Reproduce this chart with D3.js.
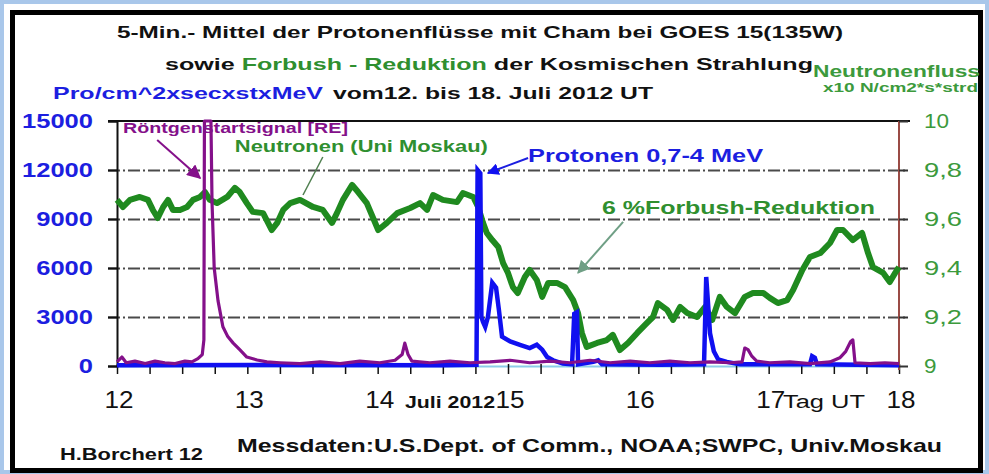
<!DOCTYPE html>
<html>
<head>
<meta charset="utf-8">
<script src="https://cdn.jsdelivr.net/npm/d3@7"></script>
<style>
body { margin: 0; background: #fff; }
svg { display: block; font-family: "Liberation Sans", Arial, sans-serif; }
</style>
</head>
<body>
<div id="chart"></div>
<script>
// time = hours since 12. Juli 2012 00:00 UT
const neutronHours = [0,1.1,2.4,4.2,5.7,6.6,7.5,8.5,9.4,10.3,11.6,12.9,14.0,15.3,16.2,17.1,18.4,20.3,21.7,22.6,
  23.9,25.0,26.9,28.5,29.5,30.6,31.9,33.7,36.1,37.9,39.6,40.5,41.6,43.3,44.4,46.0,48.1,49.7,51.6,54.0,
  55.8,57.1,58.2,60.0,62.6,63.7,65.6,66.5,67.4,68.1,69.1,70.2,71.1,72.0,72.9,73.8,75.1,76.0,77.3,78.3,
  79.4,81.0,82.5,84.0,84.9,85.6,86.5,88.4,90.2,91.3,92.6,94.1,95.8,97.6,98.7,99.6,101.3,102.4,103.7,105.0,
  106.8,108.3,109.6,111.0,112.3,113.8,115.6,117.1,119.0,120.2,121.7,123.4,124.5,126.2,127.6,129.5,131.3,132.6,133.7,135.5,
  137.2,138.3,139.2,141.1,142.3,143.3,144.0];
// Neutronenfluss x10 N/cm2*s*strd (Uni Moskau)
const neutronValues = [9.678,9.649,9.678,9.690,9.678,9.637,9.604,9.649,9.678,9.637,9.637,9.649,9.678,9.690,9.710,9.678,9.665,9.690,9.727,9.710,
  9.665,9.629,9.624,9.555,9.584,9.637,9.665,9.678,9.649,9.637,9.584,9.624,9.678,9.739,9.710,9.665,9.555,9.584,9.624,9.645,
  9.665,9.637,9.698,9.678,9.669,9.706,9.690,9.649,9.584,9.543,9.514,9.486,9.420,9.380,9.322,9.298,9.363,9.392,9.351,9.282,
  9.339,9.339,9.322,9.269,9.216,9.135,9.078,9.094,9.106,9.127,9.065,9.094,9.135,9.176,9.200,9.257,9.229,9.188,9.241,9.216,
  9.200,9.241,9.188,9.282,9.241,9.216,9.282,9.298,9.298,9.278,9.257,9.269,9.310,9.392,9.445,9.461,9.502,9.555,9.555,9.514,
  9.543,9.461,9.404,9.380,9.343,9.380,9.404];

// Roentgen start signal (left axis units)
const xrayHours = [0,0.9,1.7,3.3,5.2,7.0,8.8,10.7,12.5,13.8,14.9,15.7,16.0,16.1,17.3,17.5,17.9,18.6,19.5,20.4,
  21.4,22.6,23.9,25.8,27.6,30.0,33.7,37.4,41.1,44.7,48.4,51.2,52.5,53.0,53.6,54.3,57.6,61.3,65.0,68.7,
  72.4,76.0,79.7,83.4,87.1,90.8,94.5,98.1,101.8,105.5,109.2,112.9,115.1,115.6,116.2,116.9,117.8,120.2,123.9,127.6,
  131.3,133.1,134.2,135.1,135.5,135.9,138.7,141.4,144.0];
const xrayValues = [250,550,200,300,150,300,200,150,300,250,450,700,1600,15000,15000,10000,6000,4000,2400,1800,
  1400,1000,550,370,250,200,150,250,150,300,200,350,700,1400,700,300,200,300,200,250,
  350,200,300,200,350,200,300,200,300,200,250,200,250,1100,1000,600,300,200,250,150,
  250,500,900,1500,1600,200,150,200,150];

// Protonen 0,7-4 MeV, Pro/cm^2xsecxstxMeV
const protonHours = [0,30,60,66.2,66.4,66.9,67.1,67.4,67.8,68.3,69.1,69.8,70.3,70.9,72.4,74.2,76.0,77.3,78.3,79.2,
  80.3,82.1,83.8,84.2,84.7,84.9,87.7,88.6,89.3,100,108.1,108.5,108.8,109.2,109.9,110.7,112.3,114.7,127.6,128.0,
  128.5,128.9,144];
const protonValues = [40,60,50,80,12000,11800,3000,2700,2400,3000,5100,4800,3500,1800,1500,1300,1100,1300,1000,550,
  350,150,100,3200,3300,100,250,350,100,80,100,5450,4000,2000,900,400,250,100,100,600,
  500,100,50];

const leftTicks = [0,3000,6000,9000,12000,15000];
const rightTicks = [9,9.2,9.4,9.6,9.8,10];
const gridLevels = [3000,6000,9000,12000];
const dayLabels = ['12','13','14','15','16','17','18'];
const minorStep = 6; // hours

const W = 989, H = 474;
const plot = {left: 117, right: 899, top: 121, bottom: 366};

const svg = d3.select('#chart').append('svg')
  .attr('width', W).attr('height', H);

// outer frames
svg.append('rect').attr('x', 2).attr('y', 2).attr('width', W - 4).attr('height', H - 4)
  .attr('fill', '#fff').attr('stroke', '#a9c7ea').attr('stroke-width', 4);
svg.append('rect').attr('x', 12.5).attr('y', 12.5).attr('width', 968).attr('height', 458)
  .attr('fill', '#fff').attr('stroke', '#000').attr('stroke-width', 5);

const x = d3.scaleLinear().domain([0, 144]).range([plot.left, plot.right]);
const yL = d3.scaleLinear().domain([0, 15000]).range([plot.bottom, plot.top]);
const yR = d3.scaleLinear().domain([9, 10]).range([plot.bottom, plot.top]);

// grid lines (dash-dot)
const gridG = svg.append('g')
  .attr('transform', `translate(${plot.left - 9},0)`)
  .call(d3.axisLeft(yL).tickValues(gridLevels).tickSize(-(plot.right - plot.left + 18)).tickFormat(''));
gridG.select('.domain').remove();
gridG.selectAll('line').attr('stroke', '#4a4a4a').attr('stroke-width', 2).attr('stroke-dasharray', '12,3,2,3');

// top border line
svg.append('line').attr('x1', plot.left - 9).attr('x2', plot.right + 11)
  .attr('y1', plot.top).attr('y2', plot.top).attr('stroke', '#111').attr('stroke-width', 2);

// x axis
const xAxisG = svg.append('g')
  .attr('transform', `translate(0,${plot.bottom})`)
  .call(d3.axisBottom(x).tickValues(d3.range(0, 145, minorStep)).tickSize(8).tickSizeOuter(0).tickFormat(''));
xAxisG.select('.domain').attr('stroke', '#8ccbe8').attr('stroke-width', 2);
xAxisG.selectAll('.tick line').attr('stroke', '#111').attr('stroke-width', 1.5).attr('y1', -2);

// left axis
const yLG = svg.append('g')
  .attr('transform', `translate(${plot.left},0)`)
  .call(d3.axisLeft(yL).tickValues(leftTicks).tickSize(9).tickPadding(15).tickFormat(d3.format('d')));
yLG.select('.domain').attr('stroke', '#111').attr('stroke-width', 2);
yLG.selectAll('.tick line').attr('stroke', '#111').attr('stroke-width', 2);
yLG.selectAll('.tick text')
  .attr('fill', '#1c1ee0')
  .style('font-family', '"Liberation Sans", Arial, sans-serif')
  .style('font-weight', 'bold').style('font-size', '21px')
  .attr('textLength', d => String(d).length * 14.2)
  .attr('lengthAdjust', 'spacingAndGlyphs');

// right axis
const fmtR = d => (d === 9 || d === 10) ? String(d) : d.toFixed(1).replace('.', ',');
const yRG = svg.append('g')
  .attr('transform', `translate(${plot.right},0)`)
  .call(d3.axisRight(yR).tickValues(rightTicks).tickSize(9).tickPadding(16).tickFormat(fmtR));
yRG.select('.domain').attr('stroke', '#9a4b45').attr('stroke-width', 2)
  .attr('d', `M0,${plot.top}V${plot.bottom + 4}`);
yRG.selectAll('.tick line').attr('stroke', '#333').attr('stroke-width', 2);
yRG.selectAll('.tick text')
  .attr('fill', '#3c9a3c')
  .style('font-family', '"Liberation Sans", Arial, sans-serif')
  .style('font-size', '21px')
  .attr('textLength', d => fmtR(d).length === 3 ? 38 : fmtR(d).length * 12.5)
  .attr('lengthAdjust', 'spacingAndGlyphs');

// day labels
svg.append('g').selectAll('text')
  .data(dayLabels)
  .join('text')
  .attr('x', (d, i) => x(i * 24) + 2)
  .attr('y', 408)
  .attr('text-anchor', 'middle')
  .attr('font-size', 23)
  .attr('fill', '#111')
  .attr('textLength', 29)
  .attr('lengthAdjust', 'spacingAndGlyphs')
  .text(d => d);

function label(txt, px, py, opts) {
  const t = svg.append('text')
    .attr('x', px).attr('y', py)
    .attr('font-size', opts.size)
    .attr('font-weight', opts.bold ? 'bold' : 'normal')
    .attr('fill', opts.color || '#111')
    .attr('text-anchor', opts.anchor || 'start');
  if (opts.len) t.attr('textLength', opts.len).attr('lengthAdjust', 'spacingAndGlyphs');
  t.text(txt);
  return t;
}

label('Juli 2012', 405, 408, {size: 16, bold: true, len: 90});
label('Tag UT', 783, 408, {size: 18, len: 82});

// titles
label('5-Min.- Mittel der Protonenflüsse mit Cham bei GOES 15(135W)', 117, 38, {size: 17, bold: true, len: 726});
const t2 = svg.append('text').attr('x', 165).attr('y', 70).attr('font-size', 17).attr('font-weight', 'bold')
  .attr('textLength', 648).attr('lengthAdjust', 'spacingAndGlyphs');
t2.append('tspan').attr('fill', '#111').text('sowie ');
t2.append('tspan').attr('fill', '#2f8f2f').text('Forbush - Reduktion');
t2.append('tspan').attr('fill', '#111').text(' der Kosmischen Strahlung');
label('Pro/cm^2xsecxstxMeV', 53, 99, {size: 17, bold: true, color: '#1c1ee0', len: 270});
label('vom12. bis 18. Juli 2012 UT', 333, 99, {size: 17, bold: true, len: 320});
label('Neutronenfluss', 813, 77, {size: 17, bold: true, color: '#3c9a3c', len: 167});
label('x10 N/cm2*s*strd', 823, 92, {size: 12, bold: true, color: '#3c9a3c', len: 155});

// footer
label('H.Borchert 12', 60, 460, {size: 16, bold: true, len: 143});
label('Messdaten:U.S.Dept. of Comm., NOAA;SWPC, Univ.Moskau', 237, 452, {size: 19, bold: true, len: 705});

// series
const zip = (hs, vs) => hs.map((h, i) => ({h: h, v: vs[i]}));
const lineL = d3.line().x(d => x(d.h)).y(d => yL(d.v));
const lineR = d3.line().x(d => x(d.h)).y(d => yR(d.v));

svg.append('path')
  .datum(zip(neutronHours, neutronValues))
  .attr('fill', 'none')
  .attr('stroke', '#1f8a1f')
  .attr('stroke-width', 6)
  .attr('stroke-linejoin', 'round')
  .attr('d', lineR);

svg.append('path')
  .datum(zip(protonHours, protonValues))
  .attr('fill', 'none')
  .attr('stroke', '#1010f0')
  .attr('stroke-width', 4.5)
  .attr('d', lineL);

svg.append('path')
  .datum(zip(xrayHours, xrayValues))
  .attr('fill', 'none')
  .attr('stroke', '#84108a')
  .attr('stroke-width', 3.2)
  .attr('stroke-linejoin', 'round')
  .attr('d', lineL);

// annotations with arrows
const defs = svg.append('defs');
function marker(id, color, size) {
  defs.append('marker').attr('id', id)
    .attr('viewBox', '0 0 10 10').attr('refX', 9).attr('refY', 5)
    .attr('markerWidth', size).attr('markerHeight', size)
    .attr('markerUnits', 'userSpaceOnUse')
    .attr('orient', 'auto')
    .append('path').attr('d', 'M0,0L10,5L0,10z').attr('fill', color);
}
marker('ah-purple', '#84108a', 14);
marker('ah-blue', '#1010f0', 12);
marker('ah-green', '#6f9f85', 13);

function arrow(h1, v1, h2, v2, yScale, color, width, mk) {
  const a = svg.append('line')
    .attr('x1', x(h1)).attr('y1', yScale(v1))
    .attr('x2', x(h2)).attr('y2', yScale(v2))
    .attr('stroke', color).attr('stroke-width', width);
  if (mk) a.attr('marker-end', `url(#${mk})`);
}

label('Röntgenstartsignal [RE]', x(1.1), yL(14264), {size: 14, bold: true, color: '#84108a', len: 225});
arrow(7.4, 13836, 15.3, 11509, yL, '#84108a', 2, 'ah-purple');

label('Neutronen (Uni Moskau)', x(21.7), yR(9.873), {size: 17, bold: true, color: '#2f8f2f', len: 253});
arrow(37.9, 9.853, 34.25, 9.698, yR, '#4f7f4f', 1.5, null);

label('Protonen 0,7-4 MeV', x(75.7), yL(12489), {size: 18, bold: true, color: '#1c1ee0', len: 235});
arrow(75.7, 12734, 68.3, 11815, yL, '#1c1ee0', 2, 'ah-blue');

label('6 %Forbush-Reduktion', x(89.3), yR(9.62), {size: 18, bold: true, color: '#2f8f2f', len: 273});
arrow(93.2, 9.588, 84.9, 9.38, yR, '#6f9f85', 2, 'ah-green');
</script>
</body>
</html>
